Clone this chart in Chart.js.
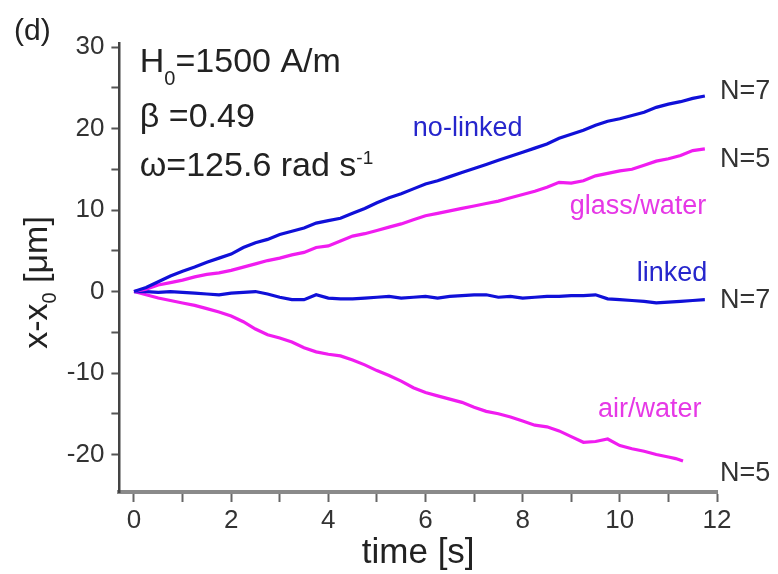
<!DOCTYPE html>
<html>
<head>
<meta charset="utf-8">
<script src="https://cdn.jsdelivr.net/npm/chart.js@4.4.0/dist/chart.umd.min.js"></script>
<style>
  html, body { margin: 0; padding: 0; background: #fff; }
  canvas { display: block; }
</style>
</head>
<body>
<canvas id="chart" width="778" height="574"></canvas>
<script>
const FONT = "'Liberation Sans', Arial, sans-serif";

// sample times (s)
const timeS = [0, 0.25, 0.5, 0.75, 1, 1.25, 1.5, 1.75, 2, 2.25, 2.5, 2.75, 3, 3.25, 3.5, 3.75,
  4, 4.25, 4.5, 4.75, 5, 5.25, 5.5, 5.75, 6, 6.25, 6.5, 6.75, 7, 7.25, 7.5, 7.75,
  8, 8.25, 8.5, 8.75, 9, 9.25, 9.5, 9.75, 10, 10.25, 10.5, 10.75, 11, 11.25, 11.5, 11.75];
const airTimeS = [0, 0.25, 0.5, 0.75, 1, 1.25, 1.5, 1.75, 2, 2.25, 2.5, 2.75, 3, 3.25, 3.5, 3.75,
  4, 4.25, 4.5, 4.75, 5, 5.25, 5.5, 5.75, 6, 6.25, 6.5, 6.75, 7, 7.25, 7.5, 7.75,
  8, 8.25, 8.5, 8.75, 9, 9.25, 9.5, 9.75, 10, 10.25, 10.5, 10.75, 11, 11.15, 11.3];

// x - x0 (um)
const noLinked = [0, 0.5, 1.2, 1.9, 2.5, 3.0, 3.6, 4.1, 4.6, 5.4, 6.0, 6.4, 7.0, 7.4, 7.8, 8.4,
  8.7, 9.0, 9.6, 10.2, 10.9, 11.5, 12.0, 12.6, 13.2, 13.6, 14.1, 14.6, 15.1, 15.6, 16.1, 16.6,
  17.1, 17.6, 18.1, 18.8, 19.3, 19.8, 20.4, 20.9, 21.2, 21.6, 22.0, 22.6, 23.0, 23.3, 23.7, 24.0];
const glassWater = [0, 0.3, 0.8, 1.1, 1.4, 1.8, 2.1, 2.3, 2.6, 3.0, 3.4, 3.8, 4.1, 4.5, 4.8, 5.4,
  5.6, 6.2, 6.8, 7.1, 7.5, 7.9, 8.3, 8.8, 9.3, 9.6, 9.9, 10.2, 10.5, 10.8, 11.1, 11.5,
  11.9, 12.3, 12.8, 13.4, 13.3, 13.6, 14.2, 14.5, 14.8, 15.0, 15.5, 16.0, 16.3, 16.7, 17.3, 17.5];
const linked = [0, 0, -0.1, 0, -0.1, -0.2, -0.3, -0.4, -0.2, -0.1, 0, -0.3, -0.7, -1.0, -1.0, -0.4,
  -0.8, -0.9, -0.9, -0.8, -0.7, -0.6, -0.8, -0.7, -0.6, -0.8, -0.6, -0.5, -0.4, -0.4, -0.7, -0.6,
  -0.8, -0.7, -0.6, -0.6, -0.5, -0.5, -0.4, -0.9, -1.0, -1.1, -1.2, -1.4, -1.3, -1.2, -1.1, -1.0];
const airWater = [0, -0.4, -0.8, -1.1, -1.4, -1.7, -2.1, -2.5, -3.0, -3.7, -4.6, -5.3, -5.7, -6.2, -6.9, -7.4,
  -7.7, -7.9, -8.4, -9.0, -9.7, -10.3, -11.0, -11.8, -12.4, -12.8, -13.2, -13.6, -14.2, -14.7, -15.0, -15.4,
  -15.9, -16.4, -16.6, -17.1, -17.8, -18.5, -18.4, -18.1, -18.9, -19.3, -19.6, -20.0, -20.3, -20.5, -20.8];

// axis ticks
const xTicks = [0, 1, 2, 3, 4, 5, 6, 7, 8, 9, 10, 11, 12];
const xTickLabels = [0, 2, 4, 6, 8, 10, 12];
const yTicks = [-20, -15, -10, -5, 0, 5, 10, 15, 20, 25, 30];
const yTickLabels = [-20, -10, 0, 10, 20, 30];

const BLUE = '#1010d8';
const MAGENTA = '#f01cf0';

function toPoints(xs, ys) {
  return ys.map((v, i) => ({x: xs[i], y: v}));
}

function lineSet(label, xs, ys, color) {
  return {
    label: label,
    data: toPoints(xs, ys),
    borderColor: color,
    borderWidth: 3.2,
    pointRadius: 0,
    tension: 0,
    fill: false
  };
}

// text drawn on the chart, anchored in data units
const curveLabels = [
  {text: 'no-linked', x: 5.74, y: 19.1, color: '#2626cc'},
  {text: 'glass/water', x: 8.97, y: 9.5, color: '#e638e6'},
  {text: 'linked', x: 10.35, y: 1.35, color: '#2626cc'},
  {text: 'air/water', x: 9.55, y: -15.4, color: '#e638e6'},
  {text: 'N=7', x: 12.06, y: 23.6, color: '#333'},
  {text: 'N=5', x: 12.06, y: 15.3, color: '#333'},
  {text: 'N=7', x: 12.06, y: -2.0, color: '#333'},
  {text: 'N=5', x: 12.06, y: -23.2, color: '#333'}
];

function drawRich(ctx, x, y, parts) {
  let cx = x;
  parts.forEach(p => {
    ctx.font = p.size + 'px ' + FONT;
    ctx.fillText(p.t, cx, y + (p.dy || 0));
    cx += ctx.measureText(p.t).width;
  });
  return cx - x;
}

function richWidth(ctx, parts) {
  let w = 0;
  parts.forEach(p => {
    ctx.font = p.size + 'px ' + FONT;
    w += ctx.measureText(p.t).width;
  });
  return w;
}

const textPlugin = {
  id: 'texts',
  afterDraw(chart) {
    const ctx = chart.ctx;
    const xs = chart.scales.x;
    const ys = chart.scales.y;
    ctx.save();
    ctx.textAlign = 'left';
    ctx.textBaseline = 'alphabetic';

    // panel letter
    ctx.fillStyle = '#222';
    ctx.font = '30px ' + FONT;
    ctx.fillText('(d)', 14, 40);

    // parameters
    const px = xs.getPixelForValue(0.12);
    drawRich(ctx, px, ys.getPixelForValue(27.0), [
      {t: 'H', size: 34}, {t: '0', size: 20, dy: 13}, {t: '=1500 A/m', size: 34}
    ]);
    drawRich(ctx, px, ys.getPixelForValue(20.2), [{t: 'β =0.49', size: 34}]);
    drawRich(ctx, px, ys.getPixelForValue(14.2), [
      {t: 'ω=125.6 rad s', size: 34}, {t: '-1', size: 19, dy: -12}
    ]);

    // curve labels
    ctx.font = '27px ' + FONT;
    curveLabels.forEach(l => {
      ctx.fillStyle = l.color;
      ctx.fillText(l.text, xs.getPixelForValue(l.x), ys.getPixelForValue(l.y));
    });

    // y axis title
    const parts = [
      {t: 'x-x', size: 34}, {t: '0', size: 20, dy: 9}, {t: ' [μm]', size: 34}
    ];
    ctx.fillStyle = '#222';
    const w = richWidth(ctx, parts);
    ctx.translate(37, (ys.top + ys.bottom) / 2 + 15);
    ctx.rotate(-Math.PI / 2);
    drawRich(ctx, -w / 2, 10, parts);
    ctx.restore();
  }
};

new Chart(document.getElementById('chart'), {
  type: 'line',
  data: {
    datasets: [
      lineSet('no-linked', timeS, noLinked, BLUE),
      lineSet('glass/water', timeS, glassWater, MAGENTA),
      lineSet('linked', timeS, linked, BLUE),
      lineSet('air/water', airTimeS, airWater, MAGENTA)
    ]
  },
  options: {
    responsive: false,
    animation: false,
    devicePixelRatio: 1,
    layout: {padding: {top: 43, right: 61, left: 0, bottom: 0}},
    plugins: {
      legend: {display: false},
      tooltip: {enabled: false}
    },
    scales: {
      x: {
        type: 'linear',
        min: -0.3,
        max: 12,
        afterBuildTicks: s => { s.ticks = xTicks.map(v => ({value: v})); },
        afterFit: s => { s.height = 82; },
        ticks: {
          autoSkip: false,
          maxRotation: 0,
          padding: 3,
          color: '#333',
          font: {family: FONT, size: 26},
          callback: v => xTickLabels.includes(v) ? String(v) : ''
        },
        grid: {drawOnChartArea: false, drawTicks: true, tickLength: 10, tickColor: '#666', tickWidth: 2},
        border: {display: true, color: '#8a8a8a', width: 4},
        title: {
          display: true,
          text: 'time [s]',
          color: '#222',
          font: {family: FONT, size: 35},
          padding: {top: 0, bottom: 0}
        }
      },
      y: {
        type: 'linear',
        min: -24.6,
        max: 30.5,
        afterBuildTicks: s => { s.ticks = yTicks.map(v => ({value: v})); },
        afterFit: s => { s.width = 119.4; },
        ticks: {
          autoSkip: false,
          padding: 7,
          color: '#333',
          font: {family: FONT, size: 26},
          callback: v => yTickLabels.includes(v) ? String(v) : ''
        },
        grid: {drawOnChartArea: false, drawTicks: true, tickLength: 8, tickColor: '#555', tickWidth: 2},
        border: {display: true, color: '#444', width: 2.5}
      }
    }
  },
  plugins: [textPlugin]
});
</script>
</body>
</html>
